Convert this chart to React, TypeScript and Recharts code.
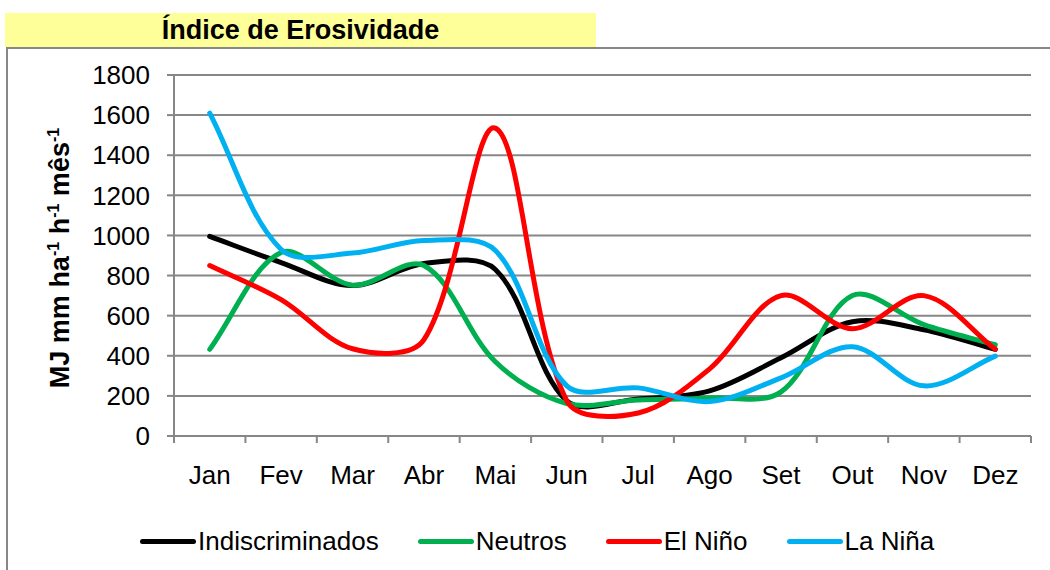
import { CartesianGrid, Line, LineChart, XAxis, YAxis } from "recharts";

// Monthly erosivity index (MJ mm ha-1 h-1 mês-1) per ENSO class.
const MONTHS = ["Jan", "Fev", "Mar", "Abr", "Mai", "Jun", "Jul", "Ago", "Set", "Out", "Nov", "Dez"];
const INDISCRIMINADOS = [995, 865, 750, 860, 830, 175, 185, 225, 390, 570, 530, 432];
const NEUTROS = [432, 915, 752, 850, 370, 162, 180, 190, 220, 700, 555, 455];
const EL_NINO = [850, 680, 435, 480, 1535, 175, 115, 335, 700, 535, 700, 432];
const LA_NINA = [1610, 930, 912, 975, 925, 250, 240, 172, 290, 445, 250, 398];
const Y_TICKS = [0, 200, 400, 600, 800, 1000, 1200, 1400, 1600, 1800];

const SERIES = [
  { key: "indiscriminados", label: "Indiscriminados", color: "#000000", values: INDISCRIMINADOS },
  { key: "neutros", label: "Neutros", color: "#00B050", values: NEUTROS },
  { key: "elnino", label: "El Niño", color: "#FF0000", values: EL_NINO },
  { key: "lanina", label: "La Niña", color: "#00B0F0", values: LA_NINA },
];

const data = MONTHS.map((m, i) => {
  const row: Record<string, string | number> = { month: m };
  SERIES.forEach((s) => (row[s.key] = s.values[i]));
  return row;
});

const FONT = '"Liberation Sans", Arial, sans-serif';
const GRID = "#878787";
const W = 1050;
const H = 570;
const M = { top: 75, right: 19, left: 0, bottom: 74 };
const Y_W = 174;
const PLOT_W = W - M.left - M.right - Y_W;
const HALF = PLOT_W / MONTHS.length / 2;

// Excel-style smoothing: bezier segments whose handles scale with chord length.
const excelSmooth = (context: any) => {
  let pts: number[][] = [];
  return {
    areaStart() {},
    areaEnd() {},
    lineStart() {
      pts = [];
    },
    point(x: number, y: number) {
      pts.push([+x, +y]);
    },
    lineEnd() {
      const n = pts.length;
      if (!n) return;
      context.moveTo(pts[0][0], pts[0][1]);
      const handles = pts.map((p, i) => {
        const a = pts[i - 1] ?? p;
        const b = pts[i + 1] ?? p;
        const da = Math.hypot(p[0] - a[0], p[1] - a[1]);
        const db = Math.hypot(b[0] - p[0], b[1] - p[1]);
        const s = da + db || 1;
        const tx = b[0] - a[0];
        const ty = b[1] - a[1];
        return {
          in: [p[0] - (tx * da) / s / 3, p[1] - (ty * da) / s / 3],
          out: [p[0] + (tx * db) / s / 3, p[1] + (ty * db) / s / 3],
        };
      });
      for (let i = 0; i < n - 1; i++) {
        const c1 = handles[i].out;
        const c2 = handles[i + 1].in;
        context.bezierCurveTo(c1[0], c1[1], c2[0], c2[1], pts[i + 1][0], pts[i + 1][1]);
      }
    },
  };
};

const MonthTick = (props: any) => {
  const { x, y, payload, index } = props;
  const axisY = y - 30;
  return (
    <g>
      <line x1={x - HALF} x2={x - HALF} y1={axisY} y2={axisY + 7} stroke={GRID} strokeWidth={2} />
      {index === MONTHS.length - 1 && (
        <line x1={x + HALF} x2={x + HALF} y1={axisY} y2={axisY + 7} stroke={GRID} strokeWidth={2} />
      )}
      <text x={x} y={y} dy="0.71em" textAnchor="middle" fill="#000" fontSize={26} fontFamily={FONT}>
        {payload.value}
      </text>
    </g>
  );
};

export default function App() {
  return (
    <div
      style={{
        position: "absolute",
        left: 0,
        top: 0,
        width: W,
        height: H,
        overflow: "hidden",
        background: "#fff",
        fontFamily: FONT,
      }}
    >
      <div
        style={{
          position: "absolute",
          left: 6,
          top: 47,
          width: 1100,
          height: 600,
          border: `2px solid ${GRID}`,
        }}
      />
      <div
        style={{
          position: "absolute",
          left: 5,
          top: 13,
          width: 591,
          height: 34,
          background: "#FFFF99",
          fontWeight: "bold",
          fontSize: 27,
          lineHeight: "34px",
          textAlign: "center",
        }}
      >
        Índice de Erosividade
      </div>
      <div
        style={{
          position: "absolute",
          left: 57,
          top: 258,
          transform: "translate(-50%, -50%) rotate(-90deg)",
          whiteSpace: "nowrap",
          fontWeight: "bold",
          fontSize: 27,
          lineHeight: "30px",
        }}
      >
        MJ mm ha<sup style={{ fontSize: 16 }}>-1</sup> h<sup style={{ fontSize: 16 }}>-1</sup> mês
        <sup style={{ fontSize: 16 }}>-1</sup>
      </div>
      <div style={{ position: "absolute", left: 0, top: 0 }}>
        <LineChart width={W} height={H} data={data} margin={M}>
          <CartesianGrid vertical={false} stroke={GRID} strokeWidth={2} />
          <XAxis
            dataKey="month"
            scale="band"
            height={60}
            tickSize={0}
            tickMargin={30}
            axisLine={{ stroke: GRID, strokeWidth: 2 }}
            tickLine={false}
            tick={<MonthTick />}
            interval={0}
          />
          <YAxis
            width={Y_W}
            domain={[0, 1800]}
            ticks={Y_TICKS}
            interval={0}
            tickSize={7}
            tickMargin={17}
            axisLine={{ stroke: GRID, strokeWidth: 2 }}
            tickLine={{ stroke: GRID, strokeWidth: 2 }}
            tick={{ fill: "#000", fontSize: 26, fontFamily: FONT }}
          />
          {SERIES.map((s) => (
            <Line
              key={s.key}
              dataKey={s.key}
              name={s.label}
              type={excelSmooth as any}
              stroke={s.color}
              strokeWidth={5}
              strokeLinecap="round"
              dot={false}
              activeDot={false}
              isAnimationActive={false}
            />
          ))}
        </LineChart>
      </div>
      <div
        style={{
          position: "absolute",
          left: 140,
          top: 526,
          height: 30,
          display: "flex",
          alignItems: "center",
          fontSize: 26,
          whiteSpace: "nowrap",
        }}
      >
        {SERIES.map((s) => (
          <div key={s.key} style={{ display: "flex", alignItems: "center", marginRight: 39 }}>
            <span
              style={{
                display: "inline-block",
                width: 56,
                height: 5,
                borderRadius: 3,
                background: s.color,
                marginRight: 2,
              }}
            />
            <span>{s.label}</span>
          </div>
        ))}
      </div>
    </div>
  );
}
